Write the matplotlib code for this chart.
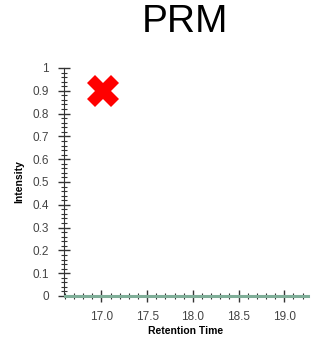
import numpy as np
import matplotlib.pyplot as plt
from matplotlib.ticker import MultipleLocator

plt.rcParams['font.family'] = ['Liberation Sans', 'DejaVu Sans']

# trace (flat baseline) and the "no peak" marker
rt = [16.6, 17.0, 17.5, 18.0, 18.5, 19.0, 19.26]
intensity = [0, 0, 0, 0, 0, 0, 0]
marker_rt = [17.02]
marker_int = [0.9]

yticks = [0, 0.1, 0.2, 0.3, 0.4, 0.5, 0.6, 0.7, 0.8, 0.9, 1]
ylabels = ["0", "0.1", "0.2", "0.3", "0.4", "0.5", "0.6", "0.7", "0.8", "0.9", "1"]
xticks = [17.0, 17.5, 18.0, 18.5, 19.0]

fig = plt.figure(figsize=(3.2, 3.38), dpi=100)
ax = fig.add_axes([64/320, 1 - 296/338, 244/320, 228/338])

ax.plot(rt, intensity, c="#7fae98", lw=2.2, zorder=3, clip_on=False)
ax.plot(marker_rt, marker_int, marker="X", ms=23, c="red", mew=0, ls="none")

ax.set_xlim(16.59, 19.26)
ax.set_ylim(0, 1)
ax.set_yticks(yticks)
ax.set_yticklabels(ylabels)
ax.set_xticks(xticks)
ax.set_xticklabels([f"{v:.1f}" for v in xticks])
ax.xaxis.set_minor_locator(MultipleLocator(0.1))
ax.yaxis.set_minor_locator(MultipleLocator(0.02))

ax.tick_params(which="major", direction="inout", length=8, width=1, colors="#333333",
               labelsize=8.5, labelcolor="#444444", pad=7)
ax.tick_params(which="minor", direction="inout", length=4, width=0.8, colors="#333333")

for s in ["top", "right"]:
    ax.spines[s].set_visible(False)
ax.spines["left"].set_color("#333333")
ax.spines["bottom"].set_color("#333333")

ax.set_xlabel("Retention Time", fontsize=7.5, fontweight="bold", labelpad=2)
ax.set_ylabel("Intensity", fontsize=7.5, fontweight="bold", labelpad=6)

fig.text(185/320, 1 - 22/338, "PRM", fontsize=28, ha="center", va="center")

fig.savefig("out.png", dpi=100)
